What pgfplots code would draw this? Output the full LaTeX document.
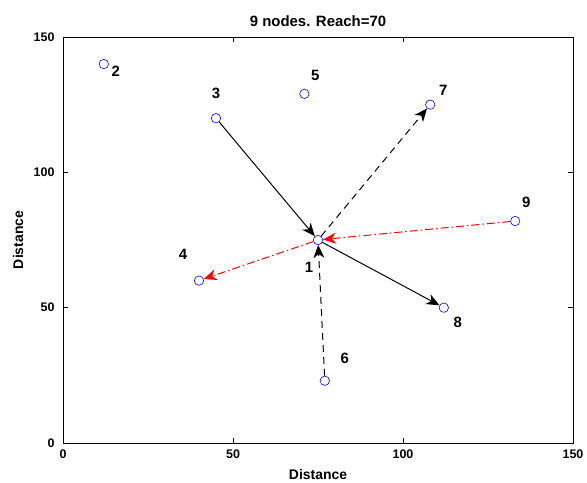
\documentclass[border=0pt]{standalone}
\usepackage{fontspec}
\setmainfont{Liberation Sans}
\usepackage{pgfplots}
\pgfplotsset{compat=1.18}
\usetikzlibrary{arrows.meta}
\begin{document}
\begin{tikzpicture}[x=1bp,y=1bp]
\begin{axis}[
  at={(0,0)}, anchor=south west,
  scale only axis,
  width=510bp, height=406bp,
  xmin=0, xmax=150, ymin=0, ymax=150,
  xtick={0,50,100,150}, ytick={0,50,100,150},
  xticklabels={0,50,100,150}, yticklabels={0,50,100,150},
  tick align=inside, major tick length=5bp,
  tick style={black, line width=0.6pt},
  axis line style={black, line width=0.8pt},
  xticklabel style={font=\fontsize{12.5}{14}\selectfont\bfseries, yshift=-3bp},
  yticklabel style={font=\fontsize{12.5}{14}\selectfont\bfseries, xshift=-5bp},
  title={9 nodes. Reach=70},
  title style={font=\fontsize{15}{17}\selectfont\bfseries, at={(axis description cs:0.5,1)}, anchor=base, yshift=5bp},
  xlabel={Distance}, ylabel={Distance},
  label style={font=\fontsize{14}{16}\selectfont\bfseries},
  xlabel style={at={(axis description cs:0.5,-0.0788)}, anchor=center},
  ylabel style={at={(axis description cs:-0.0882,0.5)}, anchor=center},
  clip=false,
]
\pgfplotsset{arr/.style={-{Stealth[length=13bp,width=11bp,inset=4bp]}, line width=1pt, shorten >=5bp, shorten <=5bp}}
\addplot[arr, black] coordinates {(45,120) (75,75)};
\addplot[arr, black, dash pattern=on 7bp off 5bp] coordinates {(75,75) (108,125)};
\addplot[arr, black, dash pattern=on 7bp off 5bp] coordinates {(77,23) (75,75)};
\addplot[arr, black] coordinates {(75,75) (112,50)};
\addplot[arr, red, dash pattern=on 8bp off 3bp on 1.5bp off 3bp] coordinates {(133,82) (75,75)};
\addplot[arr, red, dash pattern=on 8bp off 3bp on 1.5bp off 3bp] coordinates {(75,75) (40,60)};
\addplot[only marks, mark=o, blue, mark size=4.7bp, mark options={line width=0.6pt}] coordinates {
(75,75) (12,140) (45,120) (40,60) (71,129) (77,23) (108,125) (112,50) (133,82)};
\tikzset{lbl/.style={font=\fontsize{15}{17}\selectfont\bfseries}}
\node[lbl] at ([shift={(-9bp,-27bp)}]axis cs:75,75) {1};
\node[lbl] at ([shift={(12bp,-7bp)}]axis cs:12,140) {2};
\node[lbl] at ([shift={(0bp,25bp)}]axis cs:45,120) {3};
\node[lbl] at ([shift={(-16bp,26bp)}]axis cs:40,60) {4};
\node[lbl] at ([shift={(11bp,18bp)}]axis cs:71,129) {5};
\node[lbl] at ([shift={(20bp,22bp)}]axis cs:77,23) {6};
\node[lbl] at ([shift={(13bp,14bp)}]axis cs:108,125) {7};
\node[lbl] at ([shift={(14bp,-15bp)}]axis cs:112,50) {8};
\node[lbl] at ([shift={(11bp,19bp)}]axis cs:133,82) {9};
\end{axis}
\pgfresetboundingbox
\path (-63bp,-40bp) rectangle (524bp,443bp);
\end{tikzpicture}
\end{document}
